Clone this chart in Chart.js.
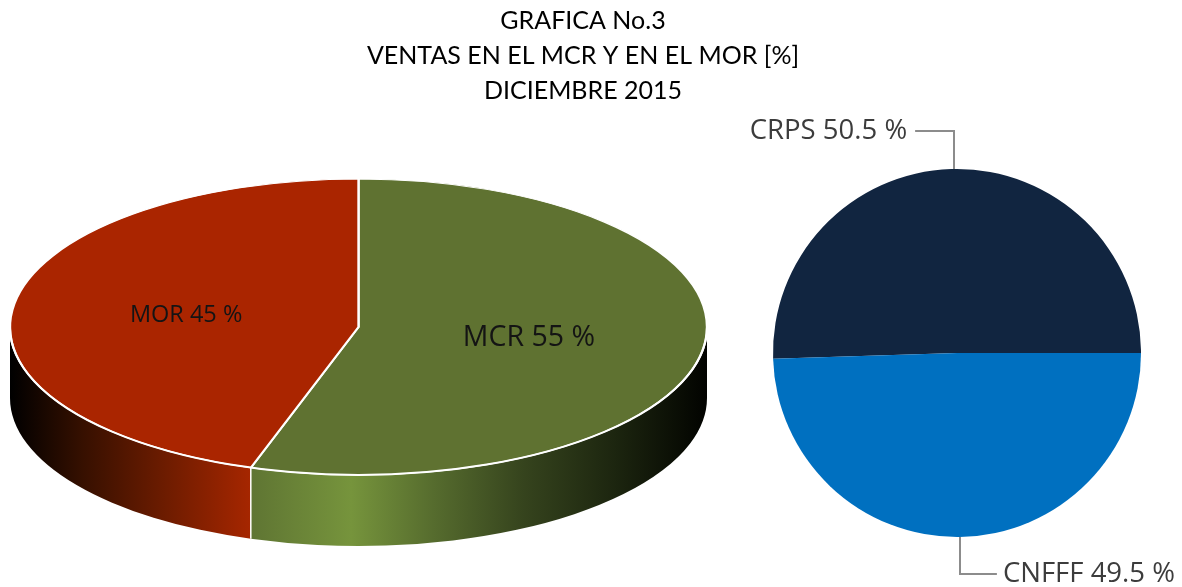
<!DOCTYPE html>
<html><head><meta charset="utf-8">
<style>
html,body{margin:0;padding:0;background:#fff;overflow:hidden;width:1182px;height:587px}
#wrapA{position:absolute;left:0;top:0;width:1166px;height:587px}
#wrapB{position:absolute;left:742px;top:0;width:440px;height:587px}
</style>
<script src="https://cdn.jsdelivr.net/npm/chart.js@4"></script>
</head><body>
<div id="wrapA"><canvas id="a"></canvas></div>
<div id="wrapB"><canvas id="b"></canvas></div>
<script>
const titleLines = ["GRAFICA No.3","VENTAS EN EL MCR Y EN EL MOR [%]","DICIEMBRE 2015"];
const marketLabels = ["MCR","MOR"];
const marketValues = [55,45];
const marketColors = ["#5f7231","#aa2500"];
const capLabels = ["CRPS","CNFFF"];
const capValues = [50.5,49.5];
const capColors = ["#112540","#0070c0"];

const FONT = '"Open Sans"';
Chart.defaults.animation = false;

// 3D projection of the tilted pie
const P = {x:358.5, y:327, rx:348.5, ry:148, depth:71};
const sideStops = [
  [[0,"#5f7533"],[0.22,"#76943c"],[0.4,"#566c2e"],[0.6,"#35431d"],[0.8,"#1c250f"],[1,"#020300"]],
  [[0,"#000000"],[0.3,"#361000"],[0.65,"#6e1c00"],[1,"#a62600"]]
];
const tilt = {
  id:'tilt',
  beforeDatasetsDraw(chart){
    const c = chart.ctx, arcs = chart.getDatasetMeta(0).data;
    arcs.forEach((arc,i)=>{
      const s = Math.max(arc.startAngle,0), e = Math.min(arc.endAngle,Math.PI);
      if(e<=s) return;
      const x0 = P.x+P.rx*Math.cos(e), x1 = P.x+P.rx*Math.cos(s);
      const g = c.createLinearGradient(x0, 0, x1, 0);
      sideStops[i].forEach(st=>g.addColorStop(st[0],st[1]));
      c.beginPath();
      c.ellipse(P.x,P.y,P.rx,P.ry,0,s,e);
      c.ellipse(P.x,P.y+P.depth,P.rx,P.ry,0,e,s,true);
      c.closePath();
      c.fillStyle = g; c.fill();
    });
    // white seam on the wall at the slice boundary
    const b = arcs[0].endAngle;
    const bx = P.x+P.rx*Math.cos(b), by = P.y+P.ry*Math.sin(b);
    c.beginPath(); c.moveTo(bx,by); c.lineTo(bx,by+P.depth);
    c.strokeStyle="#ffffff"; c.lineWidth=1.5; c.stroke();
    const a0 = arcs[0];
    c.save();
    c.translate(P.x,P.y);
    c.scale(P.rx/a0.outerRadius,P.ry/a0.outerRadius);
    c.translate(-a0.x,-a0.y);
  },
  afterDatasetsDraw(chart){
    const c = chart.ctx, arcs = chart.getDatasetMeta(0).data;
    c.restore();
    // white rim along the front edge
    c.beginPath(); c.ellipse(P.x,P.y,P.rx,P.ry,0,0,Math.PI);
    c.strokeStyle="#ffffff"; c.lineWidth=2; c.stroke();
    c.fillStyle="#141414"; c.textAlign="center"; c.textBaseline="middle";
    const sizes=[28.5,23.5], dy=[-1,0], dx=[0,-2];
    arcs.forEach((arc,i)=>{
      const m=(arc.startAngle+arc.endAngle)/2;
      c.font = sizes[i]+'px '+FONT;
      c.fillText(marketLabels[i]+" "+marketValues[i]+" %",
        P.x+0.495*P.rx*Math.cos(m)+dx[i], P.y+0.495*P.ry*Math.sin(m)+dy[i]);
    });
  }
};
new Chart(document.getElementById('a'),{
  type:'pie',
  data:{labels:marketLabels,datasets:[{data:marketValues,backgroundColor:marketColors,borderColor:"#ffffff",borderWidth:1.6,hoverOffset:0}]},
  options:{responsive:true,maintainAspectRatio:false,
    layout:{padding:{top:3}},
    plugins:{legend:{display:false},tooltip:{enabled:false},
      title:{display:true,text:titleLines,color:"#000000",font:{family:'Lato',size:25,weight:'normal',lineHeight:1.4},padding:{top:0,bottom:4}}}},
  plugins:[tilt]
});

const leaders = {
  id:'leaders',
  afterDatasetsDraw(chart){
    const c = chart.ctx, arcs = chart.getDatasetMeta(0).data;
    c.save();
    c.strokeStyle="#8c8c8c"; c.lineWidth=2; c.fillStyle="#3c3c3c";
    c.font='27.5px '+FONT; c.textBaseline="middle";
    arcs.forEach((arc,i)=>{
      const m=(arc.startAngle+arc.endAngle)/2;
      const ex=arc.x+arc.outerRadius*Math.cos(m), ey=arc.y+arc.outerRadius*Math.sin(m);
      const up = Math.sin(m)<0;
      const ly = up ? ey-38 : ey+37;
      const lx = up ? ex-39 : ex+37;
      c.beginPath(); c.moveTo(Math.round(ex),ey); c.lineTo(Math.round(ex),ly); c.lineTo(lx,ly); c.stroke();
      c.textAlign = up ? "right":"left";
      c.fillText(capLabels[i]+" "+capValues[i]+" %", up? lx-8 : lx+6, ly);
    });
    c.restore();
  }
};
new Chart(document.getElementById('b'),{
  type:'pie',
  data:{labels:capLabels,datasets:[{data:capValues,backgroundColor:capColors,borderWidth:0,hoverOffset:0}]},
  options:{responsive:true,maintainAspectRatio:false,rotation:90-capValues[0]*3.6,
    layout:{padding:{left:31,right:41,top:169,bottom:50}},
    plugins:{legend:{display:false},tooltip:{enabled:false},title:{display:false}}},
  plugins:[leaders]
});
</script>
</body></html>
